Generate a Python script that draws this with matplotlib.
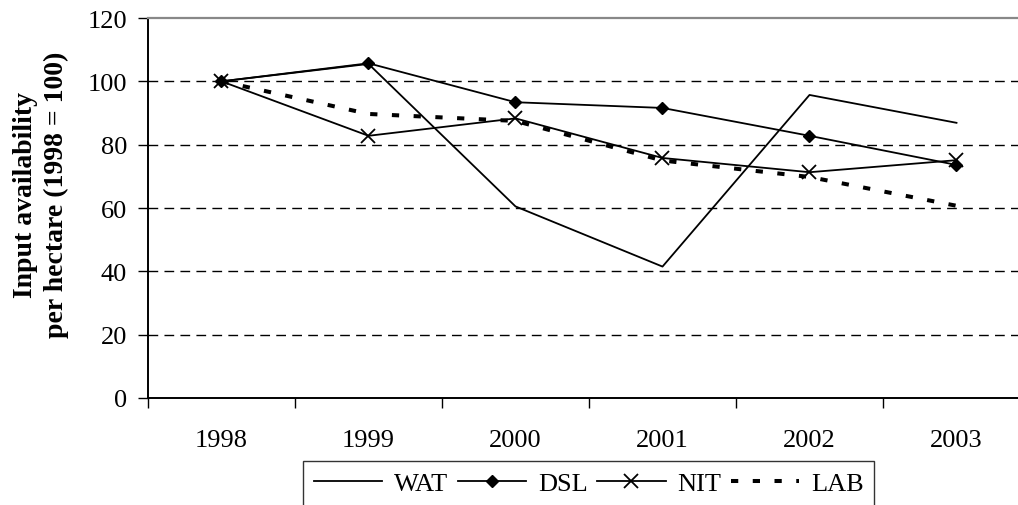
import matplotlib
matplotlib.use("Agg")
import matplotlib.pyplot as plt
import numpy as np
from matplotlib.ticker import FixedLocator, NullFormatter

years = ["1998", "1999", "2000", "2001", "2002", "2003"]
wat = [100, 105.5, 60.5, 41.5, 95.7, 86.9]
dsl = [100, 105.7, 93.4, 91.6, 82.8, 73.6]
nit = [100, 82.8, 88.3, 75.8, 71.3, 75.1]
lab = [100, 89.7, 87.5, 75.0, 69.8, 60.7]

plt.rcParams["font.family"] = ["Liberation Serif", "DejaVu Serif"]
plt.rcParams["font.size"] = 19

fig = plt.figure(figsize=(10.18, 5.06), dpi=100)
ax = fig.add_axes([148 / 1018, 1 - 399 / 506, (1030 - 148) / 1018, 380 / 506])

x = np.arange(len(years))
ax.plot(x, wat, color="black", lw=1.3, label="WAT")
ax.plot(x, dsl, color="black", lw=1.3, marker="D", ms=6.5, label="DSL")
ax.plot(x, nit, color="black", lw=1.3, marker="x", ms=10, mew=1.3, label="NIT")
ax.plot(x, lab, color="black", lw=2.9, linestyle=(0, (1.8, 3.6)), label="LAB")

ax.set_ylim(0, 120)
ax.set_xlim(-0.5, len(years) - 0.5)
ax.set_yticks(range(0, 121, 20))
for yv in range(20, 101, 20):
    ax.axhline(yv, color="black", lw=1.0, linestyle=(0, (7, 4.5)), zorder=0)

ax.set_xticks(x)
ax.set_xticklabels(years)
ax.xaxis.set_minor_locator(FixedLocator(np.arange(-0.5, len(years), 1.0)))
ax.xaxis.set_minor_formatter(NullFormatter())
ax.tick_params(axis="x", which="major", length=0, pad=22)
ax.tick_params(axis="x", which="minor", length=7, width=1, direction="out")
ax.tick_params(axis="y", length=7, width=1, direction="out", pad=8)

ax.spines["right"].set_visible(False)
ax.spines["top"].set_color("#888888")
ax.spines["top"].set_linewidth(1.6)
ax.spines["left"].set_linewidth(1.4)
ax.spines["bottom"].set_linewidth(1.4)

fig.text(41 / 1018, 1 - 195 / 506, "Input availability\nper hectare (1998 = 100)",
         rotation=90, ha="center", va="center", fontweight="bold", fontsize=20,
         multialignment="center", linespacing=1.35)

leg = fig.legend(loc="upper left", bbox_to_anchor=(303 / 1018, 1 - 462 / 506),
                 ncol=4, frameon=True, fancybox=False, handlelength=2.6,
                 handletextpad=0.45, columnspacing=0.35, borderpad=0.4,
                 borderaxespad=0)
leg.get_frame().set_edgecolor("black")
leg.get_frame().set_linewidth(1.0)

fig.savefig("out.png", dpi=100)
